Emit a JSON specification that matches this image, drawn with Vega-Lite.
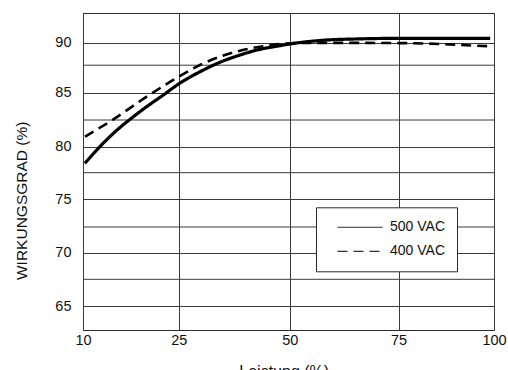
{
  "$schema": "https://vega.github.io/schema/vega-lite/v6.json",
  "width": 411,
  "height": 317,
  "autosize": "none",
  "padding": {"left": 83, "top": 13, "right": 14, "bottom": 40},
  "background": "white",
  "config": {
    "view": {"stroke": "#2b2b2b", "strokeWidth": 1},
    "font": "Liberation Sans"
  },
  "datasets": {
    "kurven": [
      {"serie": "500 VAC", "leistung": 10.3, "wirkungsgrad": 78.40},
      {"serie": "500 VAC", "leistung": 12.15, "wirkungsgrad": 79.68},
      {"serie": "500 VAC", "leistung": 14.75, "wirkungsgrad": 81.25},
      {"serie": "500 VAC", "leistung": 17.36, "wirkungsgrad": 82.56},
      {"serie": "500 VAC", "leistung": 19.97, "wirkungsgrad": 83.71},
      {"serie": "500 VAC", "leistung": 22.57, "wirkungsgrad": 84.77},
      {"serie": "500 VAC", "leistung": 25.03, "wirkungsgrad": 85.80},
      {"serie": "500 VAC", "leistung": 29.77, "wirkungsgrad": 86.90},
      {"serie": "500 VAC", "leistung": 34.28, "wirkungsgrad": 87.83},
      {"serie": "500 VAC", "leistung": 38.78, "wirkungsgrad": 88.64},
      {"serie": "500 VAC", "leistung": 43.29, "wirkungsgrad": 89.28},
      {"serie": "500 VAC", "leistung": 47.79, "wirkungsgrad": 89.69},
      {"serie": "500 VAC", "leistung": 50.05, "wirkungsgrad": 89.88},
      {"serie": "500 VAC", "leistung": 57.6, "wirkungsgrad": 90.22},
      {"serie": "500 VAC", "leistung": 65.4, "wirkungsgrad": 90.33},
      {"serie": "500 VAC", "leistung": 75.4, "wirkungsgrad": 90.38},
      {"serie": "500 VAC", "leistung": 99.0, "wirkungsgrad": 90.38},
      {"serie": "400 VAC", "leistung": 10.3, "wirkungsgrad": 80.94},
      {"serie": "400 VAC", "leistung": 14.75, "wirkungsgrad": 82.56},
      {"serie": "400 VAC", "leistung": 19.97, "wirkungsgrad": 84.62},
      {"serie": "400 VAC", "leistung": 25.03, "wirkungsgrad": 86.45},
      {"serie": "400 VAC", "leistung": 29.77, "wirkungsgrad": 87.52},
      {"serie": "400 VAC", "leistung": 34.28, "wirkungsgrad": 88.45},
      {"serie": "400 VAC", "leistung": 38.78, "wirkungsgrad": 89.13},
      {"serie": "400 VAC", "leistung": 43.29, "wirkungsgrad": 89.57},
      {"serie": "400 VAC", "leistung": 47.79, "wirkungsgrad": 89.88},
      {"serie": "400 VAC", "leistung": 50.05, "wirkungsgrad": 89.96},
      {"serie": "400 VAC", "leistung": 57.6, "wirkungsgrad": 90.0},
      {"serie": "400 VAC", "leistung": 65.4, "wirkungsgrad": 90.0},
      {"serie": "400 VAC", "leistung": 75.4, "wirkungsgrad": 89.98},
      {"serie": "400 VAC", "leistung": 85.9, "wirkungsgrad": 89.88},
      {"serie": "400 VAC", "leistung": 95.1, "wirkungsgrad": 89.69},
      {"serie": "400 VAC", "leistung": 99.0, "wirkungsgrad": 89.63}
    ],
    "raster": [
      {"wert": 67.5},
      {"wert": 72.5},
      {"wert": 77.5},
      {"wert": 82.5},
      {"wert": 87.5}
    ]
  },
  "layer": [
    {
      "data": {"name": "raster"},
      "mark": {"type": "rule", "color": "#3a3a3a", "strokeWidth": 1},
      "encoding": {
        "y": {
          "field": "wert",
          "type": "quantitative",
          "title": "WIRKUNGSGRAD (%)",
          "scale": {"type": "linear", "domain": [62.5, 65, 67.5, 70, 72.5, 75, 77.5, 80, 82.5, 85, 87.5, 90, 92.5], "range": [317, 293, 266.3, 239.7, 214, 186, 159.7, 133.7, 107, 79.5, 52.2, 29.9, 0], "nice": false, "zero": false},
          "axis": {
            "title": "WIRKUNGSGRAD (%)",
            "values": [65, 70, 75, 80, 85, 90],
            "grid": true,
            "gridColor": "#3a3a3a",
            "gridOpacity": 1,
            "ticks": false,
            "tickSize": 0,
            "domain": false,
            "labelFlush": false,
            "labelFontSize": 14.5,
            "labelColor": "#111111",
            "labelPadding": 12,
            "titleFontSize": 15.5,
            "titleFontWeight": "normal",
            "titleColor": "#111111",
            "titleX": -56.5,
            "titleY": 187.3,
            "titleBaseline": "alphabetic"
          }
        }
      }
    },
    {
      "data": {"name": "kurven"},
      "transform": [{"filter": "datum.serie === '500 VAC'"}],
      "mark": {"type": "line", "interpolate": "monotone", "color": "black", "strokeCap": "butt", "strokeWidth": 3.2},
      "encoding": {
        "x": {
          "field": "leistung",
          "type": "quantitative",
          "scale": {"type": "linear", "domain": [10, 25, 50, 75, 100], "range": [0, 95.8, 206.8, 315.5, 411], "nice": false, "zero": false},
          "axis": {
            "title": "Leistung (%)",
            "values": [10, 25, 50, 75, 100],
            "grid": true,
            "gridColor": "#3a3a3a",
            "gridOpacity": 1,
            "ticks": false,
            "tickSize": 0,
            "domain": false,
            "labelFlush": false,
            "labelFontSize": 14.5,
            "labelColor": "#111111",
            "labelPadding": 3,
            "labelDx": -2.5,
            "titleFontSize": 16,
            "titleFontWeight": "normal",
            "titleColor": "#111111",
            "titleX": 200.7,
            "titleY": 46,
            "titleBaseline": "alphabetic"
          }
        },
        "y": {
          "field": "wirkungsgrad",
          "type": "quantitative",
          "title": "WIRKUNGSGRAD (%)",
          "scale": {"type": "linear", "domain": [62.5, 65, 67.5, 70, 72.5, 75, 77.5, 80, 82.5, 85, 87.5, 90, 92.5], "range": [317, 293, 266.3, 239.7, 214, 186, 159.7, 133.7, 107, 79.5, 52.2, 29.9, 0], "nice": false, "zero": false},
          "axis": {
            "title": "WIRKUNGSGRAD (%)",
            "values": [65, 70, 75, 80, 85, 90],
            "grid": true,
            "gridColor": "#3a3a3a",
            "gridOpacity": 1,
            "ticks": false,
            "tickSize": 0,
            "domain": false,
            "labelFlush": false,
            "labelFontSize": 14.5,
            "labelColor": "#111111",
            "labelPadding": 12,
            "titleFontSize": 15.5,
            "titleFontWeight": "normal",
            "titleColor": "#111111",
            "titleX": -56.5,
            "titleY": 187.3,
            "titleBaseline": "alphabetic"
          }
        },
        "strokeDash": {
          "field": "serie",
          "type": "nominal",
          "scale": {"domain": ["500 VAC", "400 VAC"], "range": [[1, 0], [10, 6]]},
          "legend": {
            "orient": "none",
            "legendX": 233,
            "legendY": 194.3,
            "title": null,
            "padding": 12,
            "fillColor": "white",
            "strokeColor": "#2b2b2b",
            "symbolType": "stroke",
            "symbolSize": 2025,
            "symbolStrokeWidth": 1,
            "symbolStrokeColor": "black",
            "symbolOffset": 9,
            "labelOffset": 7,
            "labelFontSize": 14,
            "labelFont": "Liberation Sans Narrow, Liberation Sans",
            "labelColor": "#111111",
            "rowPadding": 8,
            "clipHeight": 16
          }
        }
      }
    },
    {
      "data": {"name": "kurven"},
      "transform": [{"filter": "datum.serie === '400 VAC'"}],
      "mark": {"type": "line", "interpolate": "monotone", "color": "black", "strokeCap": "butt", "strokeWidth": 2.6},
      "encoding": {
        "x": {
          "field": "leistung",
          "type": "quantitative",
          "scale": {"type": "linear", "domain": [10, 25, 50, 75, 100], "range": [0, 95.8, 206.8, 315.5, 411], "nice": false, "zero": false}
        },
        "y": {
          "field": "wirkungsgrad",
          "type": "quantitative",
          "title": "WIRKUNGSGRAD (%)",
          "scale": {"type": "linear", "domain": [62.5, 65, 67.5, 70, 72.5, 75, 77.5, 80, 82.5, 85, 87.5, 90, 92.5], "range": [317, 293, 266.3, 239.7, 214, 186, 159.7, 133.7, 107, 79.5, 52.2, 29.9, 0], "nice": false, "zero": false}
        },
        "strokeDash": {
          "field": "serie",
          "type": "nominal",
          "scale": {"domain": ["500 VAC", "400 VAC"], "range": [[1, 0], [10, 6]]}
        }
      }
    }
  ]
}
